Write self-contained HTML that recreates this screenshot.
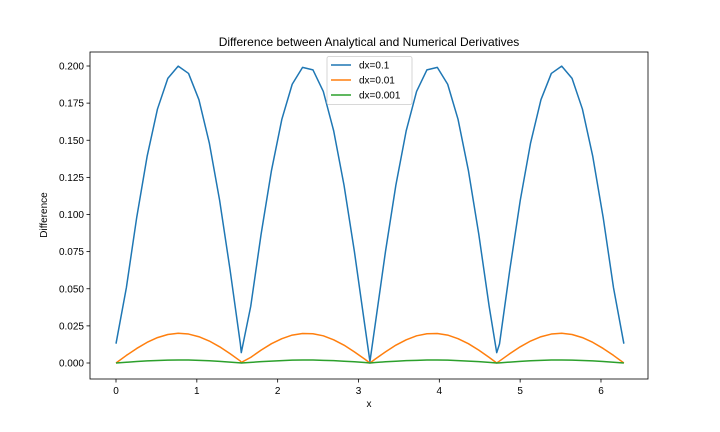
<!DOCTYPE html>
<html><head><meta charset="utf-8"><style>
html,body{margin:0;padding:0;background:#fff;}
svg{display:block;font-family:"Liberation Sans","DejaVu Sans",sans-serif;}
</style></head><body>
<svg id="chart" width="720" height="432" viewBox="0 0 720 432">
<rect x="0" y="0" width="720" height="432" fill="#fff"/>
<text x="369" y="46" font-size="12" text-anchor="middle" fill="#000">Difference between Analytical and Numerical Derivatives</text>
<g id="plot"></g>
<text x="369" y="407" font-size="10" text-anchor="middle">x</text>
<text x="47" y="215" font-size="10" text-anchor="middle" transform="rotate(-90 47 215)">Difference</text>
</svg>
<script>
const xVals=[0,0.1282,0.2565,0.3847,0.5129,0.6411,0.7694,0.8976,1.0258,1.1541,1.2823,1.4105,1.5388,1.55,1.6670,1.7952,1.9234,2.0517,2.1799,2.3081,2.4363,2.5646,2.6928,2.8211,2.9493,3.0775,3.1416,3.2057,3.3340,3.4622,3.5904,3.7187,3.8469,3.9751,4.1034,4.2316,4.3598,4.4881,4.6163,4.71,4.7445,4.8727,5.0010,5.1292,5.2574,5.3857,5.5139,5.6421,5.7703,5.8986,6.0268,6.1550,6.2832];
const dx01=[0.013,0.0507,0.0981,0.1391,0.1710,0.1917,0.1999,0.1950,0.1773,0.1482,0.1094,0.0630,0.0128,0.007,0.0382,0.0868,0.1296,0.1641,0.1877,0.1991,0.1974,0.1829,0.1564,0.1197,0.0751,0.0256,0.001,0.0256,0.0751,0.1197,0.1564,0.1829,0.1974,0.1991,0.1877,0.1641,0.1296,0.0868,0.0382,0.007,0.0128,0.0630,0.1094,0.1482,0.1773,0.1950,0.1999,0.1917,0.1710,0.1391,0.0981,0.0507,0.013];
const dx001=[0,0.0051,0.0098,0.0139,0.0171,0.0192,0.0200,0.0195,0.0177,0.0148,0.0109,0.0063,0.0013,0.0004,0.0038,0.0087,0.0130,0.0164,0.0188,0.0199,0.0197,0.0183,0.0156,0.0120,0.0075,0.0026,0,0.0026,0.0075,0.0120,0.0156,0.0183,0.0197,0.0199,0.0188,0.0164,0.0130,0.0087,0.0038,0,0.0013,0.0063,0.0109,0.0148,0.0177,0.0195,0.0200,0.0192,0.0171,0.0139,0.0098,0.0051,0];
const dx0001=[0,0.0005,0.0010,0.0014,0.0017,0.0019,0.0020,0.0020,0.0018,0.0015,0.0011,0.0006,0.0001,0,0.0004,0.0009,0.0013,0.0016,0.0019,0.0020,0.0020,0.0018,0.0016,0.0012,0.0008,0.0003,0,0.0003,0.0008,0.0012,0.0016,0.0018,0.0020,0.0020,0.0019,0.0016,0.0013,0.0009,0.0004,0,0.0001,0.0006,0.0011,0.0015,0.0018,0.0020,0.0020,0.0019,0.0017,0.0014,0.0010,0.0005,0];
const xTicks=[0,1,2,3,4,5,6];
const yTicks=[0,0.025,0.05,0.075,0.1,0.125,0.15,0.175,0.2];
const seriesNames=["dx=0.1","dx=0.01","dx=0.001"];
const colors=["#1f77b4","#ff7f0e","#2ca02c"];

const L=90,R=648,T=52,B=379;
const xs=v=>116+v*80.83;
const ys=v=>363-v*1485;
const NS="http://www.w3.org/2000/svg";
const g=document.getElementById('plot');
function mk(tag,attrs,parent){const e=document.createElementNS(NS,tag);for(const k in attrs)e.setAttribute(k,attrs[k]);(parent||g).appendChild(e);return e;}

[dx01,dx001,dx0001].forEach((s,i)=>{
  const p=mk('polyline',{points:s.map((v,j)=>xs(xVals[j]).toFixed(2)+','+ys(v).toFixed(2)).join(' '),fill:'none',stroke:colors[i],'stroke-width':1.5,'stroke-linejoin':'round'});
  
  
});
const frame=mk('rect',{x:L,y:T,width:R-L,height:B-T,fill:'none',stroke:'#000','stroke-width':0.8});


xTicks.forEach(t=>{
  const x=xs(t);
  const l=mk('line',{x1:x,x2:x,y1:B,y2:B+3.5,stroke:'#000','stroke-width':0.8});
  
  
  const tx=mk('text',{x:x,y:B+15,'font-size':10,'text-anchor':'middle'});
  tx.textContent=t;
  
  
});
yTicks.forEach(t=>{
  const y=ys(t);
  const l=mk('line',{x1:L-3.5,x2:L,y1:y,y2:y,stroke:'#000','stroke-width':0.8});
  
  
  const tx=mk('text',{x:L-6,y:y+3.5,'font-size':10,'text-anchor':'end'});
  tx.textContent=t.toFixed(3);
  
  
});
const lg=mk('g',{});


mk('rect',{x:327,y:56.5,width:85,height:48,rx:2,fill:'#fff','fill-opacity':0.8,stroke:'#ccc','stroke-width':0.8},lg);
seriesNames.forEach((n,i)=>{
  const y=65+i*15;
  const e=mk('g',{},lg);
  
  
  mk('line',{x1:331,x2:351,y1:y,y2:y,stroke:colors[i],'stroke-width':1.5},e);
  const t=mk('text',{x:359,y:y+3.5,'font-size':10},e);
  t.textContent=n;
});
</script>
</body></html>
